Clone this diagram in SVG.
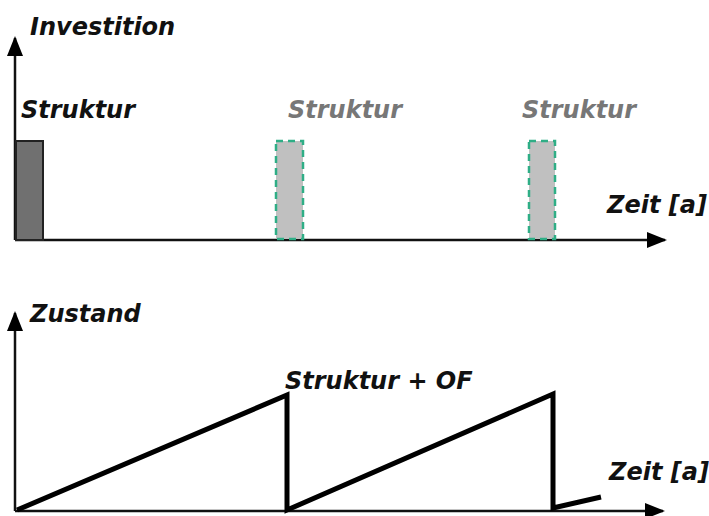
<svg xmlns="http://www.w3.org/2000/svg" width="709" height="516" viewBox="0 0 709 516">
  <style>
    .lbl { font-family: "DejaVu Sans", "Liberation Sans", sans-serif; font-weight: bold; font-style: italic; font-size: 24px; fill: #111; }
    .gray { fill: #777; }
    .axis { stroke: #111; stroke-width: 2.5; fill: none; }
    .curve { stroke: #000; stroke-width: 5; fill: none; stroke-linejoin: miter; }
    .bar-old { fill: #707070; stroke: #222; stroke-width: 2; }
    .bar-new { fill: #c0c0c0; stroke: #2fae86; stroke-width: 2.5; stroke-dasharray: 7 5; }
  </style>
  <defs>
    <marker id="arr" markerWidth="10" markerHeight="10" refX="8" refY="5" orient="auto" markerUnits="userSpaceOnUse" viewBox="0 0 10 10">
      <path d="M0,0 L10,5 L0,10 z" fill="#000"/>
    </marker>
    <marker id="arrBig" viewBox="0 0 20 16" refX="18" refY="8" markerWidth="20" markerHeight="16" orient="auto" markerUnits="userSpaceOnUse">
      <path d="M0,0 L20,8 L0,16 z" fill="#000"/>
    </marker>
  </defs>

  <!-- upper chart: investment -->
  <g id="axes-top">
    <line class="axis" x1="15" y1="240" x2="15" y2="38" marker-end="url(#arrBig)"/>
    <line class="axis" x1="15" y1="240" x2="665" y2="240" marker-end="url(#arrBig)"/>
  </g>
  <g id="bar-1">
    <rect class="bar-old" x="16" y="141" width="27" height="99"/>
  </g>
  <g id="bar-2">
    <rect class="bar-new" x="276" y="141" width="27" height="98"/>
  </g>
  <g id="bar-3">
    <rect class="bar-new" x="529" y="141" width="26" height="98"/>
  </g>
  <text class="lbl" x="30" y="35">Investition</text>
  <text class="lbl" x="21" y="118">Struktur</text>
  <text class="lbl gray" x="288" y="118">Struktur</text>
  <text class="lbl gray" x="522" y="118">Struktur</text>
  <text class="lbl" x="607" y="213">Zeit [a]</text>

  <!-- lower chart: condition -->
  <g id="axes-bottom">
    <line class="axis" x1="15" y1="511" x2="15" y2="313" marker-end="url(#arrBig)"/>
    <line class="axis" x1="15" y1="511" x2="663" y2="511" marker-end="url(#arrBig)"/>
  </g>
  <g id="connectors">
    <polyline class="curve" points="17,510 287,395 287,510 553,394 553,508 601,497"/>
  </g>
  <text class="lbl" x="30" y="322">Zustand</text>
  <text class="lbl" x="285" y="389">Struktur + OF</text>
  <text class="lbl" x="609" y="480">Zeit [a]</text>
</svg>
